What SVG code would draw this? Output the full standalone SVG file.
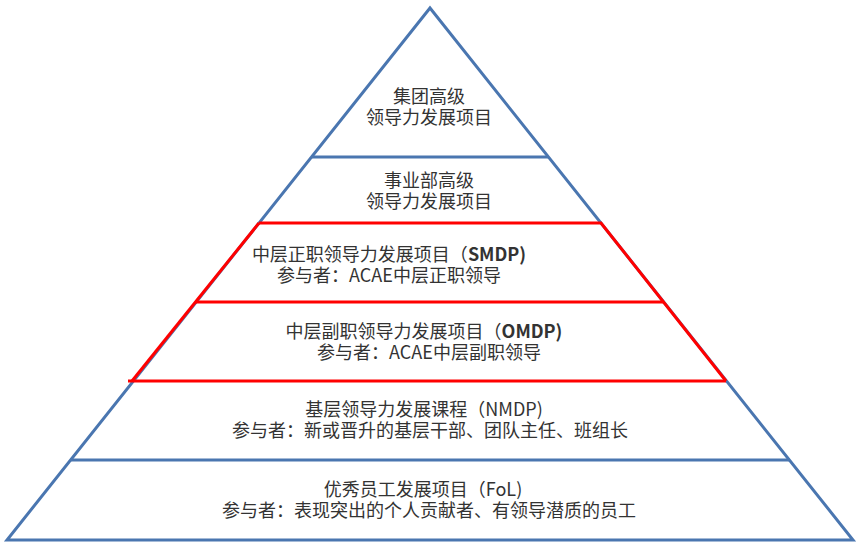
<svg xmlns="http://www.w3.org/2000/svg" width="861" height="552" viewBox="0 0 861 552">
<style>
.blue{stroke:#4A76B0;stroke-width:3;fill:none;stroke-linejoin:miter}
.red{stroke:#FF0000;stroke-width:3;fill:none}
text{font-family:"Noto Sans CJK SC","Noto Sans",sans-serif;font-size:18px;fill:#333333;text-anchor:middle}
.b{font-weight:bold}
</style>
<rect width="861" height="552" fill="#ffffff"/>
<g id="connectors">
<polygon class="blue" points="430,8 853,540 7,540"/>
<line class="blue" x1="312" y1="157" x2="548" y2="157"/>
<line class="blue" x1="70" y1="460" x2="790" y2="460"/>
<polyline class="red" points="259,223 601,223 726,381"/>
<polyline class="red" points="259,223 132,381"/>
<line class="red" x1="128" y1="381" x2="726" y2="381"/>
<line class="red" x1="196" y1="302" x2="663" y2="302"/>
</g>
<g id="level1">
<text x="429" y="103">集团高级</text>
<text x="429" y="124">领导力发展项目</text>
</g>
<g id="level2">
<text x="429" y="187">事业部高级</text>
<text x="429" y="208">领导力发展项目</text>
</g>
<g id="level3">
<text x="389" y="261">中层正职领导力发展项目（<tspan class="b">SMDP)</tspan></text>
<text x="389" y="282">参与者：ACAE中层正职领导</text>
</g>
<g id="level4">
<text x="424" y="338">中层副职领导力发展项目（<tspan class="b">OMDP)</tspan></text>
<text x="429" y="359">参与者：ACAE中层副职领导</text>
</g>
<g id="level5">
<text x="424" y="416">基层领导力发展课程（NMDP)</text>
<text x="430" y="437">参与者：新或晋升的基层干部、团队主任、班组长</text>
</g>
<g id="level6">
<text x="423" y="496">优秀员工发展项目（FoL)</text>
<text x="429" y="517">参与者：表现突出的个人贡献者、有领导潜质的员工</text>
</g>
</svg>
